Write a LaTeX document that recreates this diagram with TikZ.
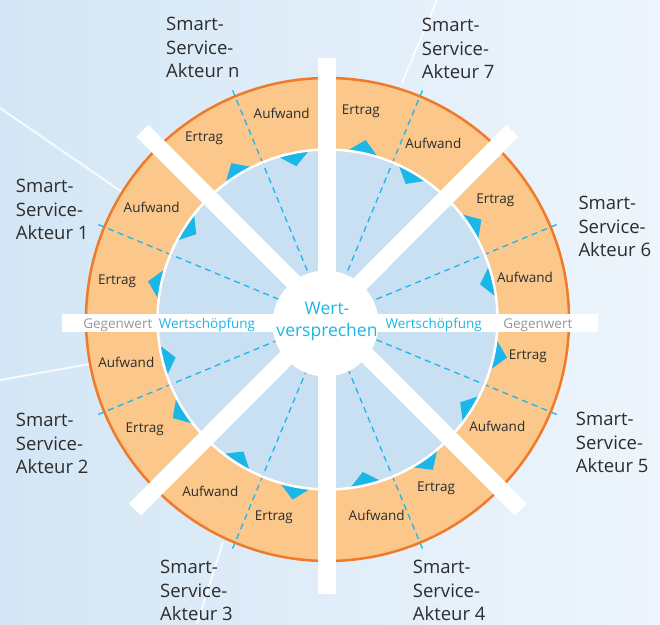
\documentclass[tikz,border=0pt]{standalone}
\usepackage{fontspec}
\setmainfont{Open Sans}
\usetikzlibrary{calc}
\definecolor{bgL}{RGB}{211,230,245}
\definecolor{bgR}{RGB}{238,245,252}
\definecolor{ringfill}{RGB}{251,199,139}
\definecolor{ringline}{RGB}{240,122,40}
\definecolor{innerfill}{RGB}{201,224,243}
\definecolor{cyanA}{RGB}{26,183,232}
\definecolor{txt}{RGB}{45,45,45}
\definecolor{gegen}{RGB}{150,150,150}
\tikzset{
 lbl/.style={font=\fontsize{13.5}{16}\selectfont, text=txt, inner sep=0pt, text height=9.6pt, text depth=0pt},
 gw/.style={font=\fontsize{13.5}{16}\selectfont, text=gegen, inner sep=0pt, text height=9.6pt, text depth=0pt},
 ws/.style={font=\fontsize{13.5}{16}\selectfont, text=cyanA, inner sep=0pt, text height=9.6pt, text depth=0pt},
 akt/.style={font=\fontsize{18.5}{23.5}\selectfont, text=txt, inner sep=0pt, align=left, anchor=north west},
 barline/.style={draw=white, line width=18pt},
 diagbar/.style={draw=white, line width=17pt},
 dashline/.style={draw=cyanA, line width=1.3pt, dash pattern=on 6pt off 4.5pt},
 ray/.style={draw=white, line width=2pt, opacity=0.8},
 tri/.style={fill=cyanA},
}
\begin{document}
\begin{tikzpicture}[x=1pt,y=-1pt]
\useasboundingbox (0,0) rectangle (660,624);
\shade[left color=bgL,right color=bgR] (0,0) rectangle (660,624);
\coordinate (C) at (327.5,319.5);
% faint rays
\draw[ray] (0,108) -- (122,192);
\draw[ray] (437,0) -- (402,83);
\draw[ray] (0,380) -- (90,364);
\draw[ray] (223,542) -- (197,624);
% ring
\fill[ringfill] (C) circle[radius=241.5pt];
\draw[ringline, line width=2.5pt] (C) circle[radius=241.5pt];
\fill[innerfill] (C) circle[radius=170pt];
% dashed lines
\foreach \t in {22.5,67.5,112.5,157.5,202.5,247.5,292.5,337.5}
  \draw[dashline] ($(C)+(\t:53pt)$) -- ($(C)+(\t:251pt)$);
% triangles (Ertrag: outward, Aufwand: inward)
\foreach \t in {78,33,348,305,259,212.5,168,121.6}
  \fill[tri] ($(C)+(\t+5.3:170pt)$) -- ($(C)+(\t:183.5pt)$) -- ($(C)+(\t-5.3:170pt)$) -- cycle;
\foreach \t in {60,13,328,283,237.5,194,147,101.5}
  \fill[tri] ($(C)+(\t+5.3:170pt)$) -- ($(C)+(\t:156.5pt)$) -- ($(C)+(\t-5.3:170pt)$) -- cycle;
\draw[white, line width=2.5pt] (C) circle[radius=170pt];
% bars
\draw[barline] (326.5,58) -- (326.5,593.5);
\draw[barline] (62,323) -- (598,323);
\draw[diagbar] (142.5,130.8) -- (520.8,509.5);
\draw[diagbar] (512.5,130.8) -- (135,509.5);
% centre
\fill[white] (325.5,323.5) circle[radius=53pt];
\node[font=\fontsize{17.5}{22.7}\selectfont, text=cyanA, align=center, inner sep=0pt] (vs) at (327,321.2) {Wert-\\versprechen};
% horizontal bar texts
\node[gw] (gwL) at (117.8,323.5) {Gegenwert};
\node[ws] (wsL) at (207,323.5) {Wertschöpfung};
\node[ws] (wsR) at (433.7,323.5) {Wertschöpfung};
\node[gw] (gwR) at (537.8,323.5) {Gegenwert};
% ring labels
\node[lbl] (au1) at (281.7,113.3) {Aufwand};
\node[lbl] (au2) at (151.7,207.3) {Aufwand};
\node[lbl] (au3) at (126.3,362.7) {Aufwand};
\node[lbl] (au4) at (210.3,491.3) {Aufwand};
\node[lbl] (au5) at (376.7,516) {Aufwand};
\node[lbl] (au6) at (497.3,426.3) {Aufwand};
\node[lbl] (au7) at (525,277.3) {Aufwand};
\node[lbl] (au8) at (433.3,143.3) {Aufwand};
\node[lbl] (er1) at (204,137) {Ertrag};
\node[lbl] (er2) at (117,280) {Ertrag};
\node[lbl] (er3) at (144.7,428) {Ertrag};
\node[lbl] (er4) at (273.8,515.3) {Ertrag};
\node[lbl] (er5) at (436,487) {Ertrag};
\node[lbl] (er6) at (527.8,354.7) {Ertrag};
\node[lbl] (er7) at (495.3,199) {Ertrag};
\node[lbl] (er8) at (360.8,110) {Ertrag};
% actors
\node[akt] (an) at (166,17.3) {Smart-\\Service-\\Akteur n};
\node[akt] (a7) at (421.7,18.3) {Smart-\\Service-\\Akteur 7};
\node[akt] (a6) at (578.3,196) {Smart-\\Service-\\Akteur 6};
\node[akt] (a1) at (15.7,179) {Smart-\\Service-\\Akteur 1};
\node[akt] (a2) at (15.7,413) {Smart-\\Service-\\Akteur 2};
\node[akt] (a3) at (160,560) {Smart-\\Service-\\Akteur 3};
\node[akt] (a4) at (412.7,560) {Smart-\\Service-\\Akteur 4};
\node[akt] (a5) at (575.7,412) {Smart-\\Service-\\Akteur 5};
\end{tikzpicture}
\end{document}
